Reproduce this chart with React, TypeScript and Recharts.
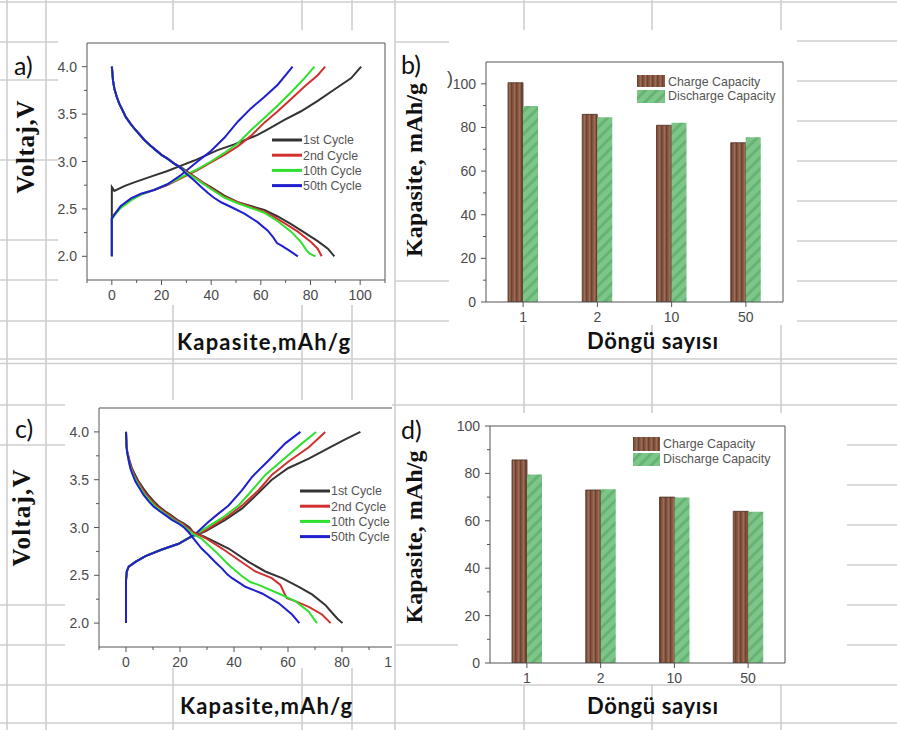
import React from 'react';
import { LineChart, Line, XAxis, YAxis, BarChart, Bar, Legend } from 'recharts';

// ---------- data ----------
const cycleNames = ['1st Cycle', '2nd Cycle', '10th Cycle', '50th Cycle'];
const cycleColors = ['#333333', '#d23030', '#2fe02f', '#1f1fcf'];

// panel a: charge curves [capacity, voltage]
const aCharge1 = [[0, 2.0], [0, 2.73], [1, 2.69], [5, 2.74], [9, 2.78], [15.7, 2.84], [22.4, 2.9], [29.2, 2.97], [33.2, 3.01], [42.6, 3.12], [49.3, 3.18], [58.7, 3.28], [62.8, 3.34], [69.5, 3.44], [76.2, 3.53], [82.9, 3.64], [89.6, 3.76], [96.4, 3.88], [100.4, 4.0]];
const aCharge2 = [[0, 2.0], [0, 2.4], [1, 2.44], [3.6, 2.52], [7.7, 2.6], [11.7, 2.65], [17, 2.7], [22.4, 2.75], [29.2, 2.84], [34.5, 2.91], [39.9, 2.99], [45.3, 3.07], [50.7, 3.16], [56, 3.27], [61.4, 3.41], [66.8, 3.53], [72.2, 3.66], [77.6, 3.79], [82.9, 3.91], [85.9, 4.0]];
const aCharge10 = [[0, 2.0], [0, 2.39], [1, 2.43], [3.6, 2.51], [7.7, 2.59], [11.7, 2.65], [17, 2.7], [22.4, 2.76], [29.2, 2.85], [34.5, 2.92], [39.9, 3.0], [45.3, 3.09], [50.7, 3.19], [56, 3.33], [61.4, 3.46], [66.8, 3.59], [72.2, 3.73], [77.6, 3.88], [81.6, 4.0]];
const aCharge50 = [[0, 2.0], [0, 2.4], [1, 2.44], [3.6, 2.53], [7.7, 2.61], [11.7, 2.66], [17, 2.7], [22.4, 2.76], [28, 2.86], [34.5, 3.0], [39.9, 3.11], [45.3, 3.25], [50.7, 3.42], [56, 3.56], [61.4, 3.68], [66.8, 3.81], [72.8, 4.0]];
// panel a: discharge curves
const aDis1 = [[0, 4.0], [0.5, 3.85], [1, 3.77], [2, 3.68], [3, 3.61], [4.3, 3.54], [5.6, 3.47], [7.5, 3.4], [9, 3.35], [11, 3.29], [13, 3.23], [15.5, 3.17], [17.7, 3.12], [20, 3.07], [22.4, 3.03], [25, 2.98], [27.8, 2.94], [30, 2.9], [33.2, 2.84], [36.5, 2.78], [39.9, 2.73], [45.3, 2.64], [50.7, 2.57], [56, 2.53], [61.4, 2.49], [66.8, 2.42], [72.2, 2.34], [77.6, 2.25], [82.9, 2.16], [87, 2.08], [89.6, 2.0]];
const aDis2 = [[0, 4.0], [0.5, 3.85], [1, 3.77], [2, 3.68], [3, 3.61], [4.3, 3.54], [5.6, 3.47], [7.5, 3.4], [9, 3.35], [11, 3.29], [13, 3.23], [15.5, 3.17], [17.7, 3.12], [20, 3.07], [22.4, 3.03], [25, 2.98], [27.8, 2.93], [30, 2.89], [33.2, 2.84], [36.5, 2.78], [39.9, 2.72], [45.3, 2.63], [50.7, 2.57], [56, 2.52], [61.4, 2.47], [65, 2.42], [69.5, 2.35], [74.9, 2.26], [80.2, 2.15], [82.9, 2.08], [84.5, 2.0]];
const aDis10 = [[0, 4.0], [0.5, 3.85], [1, 3.77], [2, 3.68], [3, 3.61], [4.3, 3.54], [5.6, 3.47], [7.5, 3.4], [9, 3.35], [11, 3.29], [13, 3.23], [15.5, 3.17], [17.7, 3.12], [20, 3.07], [22.4, 3.03], [25, 2.98], [27.8, 2.93], [30, 2.88], [33.2, 2.83], [36.5, 2.77], [39.9, 2.71], [45.3, 2.62], [50.7, 2.56], [56, 2.51], [61.4, 2.46], [66.8, 2.37], [72.2, 2.26], [76.2, 2.15], [78.2, 2.07], [79.5, 2.03], [82, 2.0]];
const aDis50 = [[0, 4.0], [0.5, 3.85], [1, 3.77], [2, 3.68], [3, 3.61], [4.3, 3.54], [5.6, 3.47], [7.5, 3.4], [9, 3.35], [11, 3.29], [13, 3.23], [15.5, 3.17], [17.7, 3.12], [20, 3.07], [22.4, 3.03], [25, 2.98], [27.8, 2.93], [30, 2.87], [33.2, 2.8], [36, 2.73], [38.6, 2.67], [41, 2.62], [44, 2.57], [48, 2.52], [53.4, 2.45], [58.7, 2.36], [62.8, 2.27], [65, 2.2], [66.5, 2.14], [68.5, 2.11], [71.5, 2.06], [74.9, 2.0]];

// panel c: charge curves
const cCharge1 = [[0, 2.0], [0, 2.45], [0.3, 2.54], [1, 2.59], [3.5, 2.64], [7.2, 2.7], [13.3, 2.77], [19.5, 2.83], [23.2, 2.89], [25, 2.91], [29.4, 2.96], [36.8, 3.08], [43, 3.2], [49, 3.36], [54, 3.5], [60, 3.62], [67.7, 3.72], [75, 3.83], [81, 3.92], [86.8, 4.0]];
const cCharge2 = [[0, 2.0], [0, 2.45], [0.3, 2.54], [1, 2.59], [3.5, 2.64], [7.2, 2.7], [13.3, 2.77], [19.5, 2.83], [23.2, 2.89], [25, 2.91], [29.4, 2.97], [36.8, 3.1], [43, 3.23], [49.1, 3.39], [54, 3.55], [60.2, 3.69], [67.7, 3.84], [73.8, 4.0]];
const cCharge10 = [[0, 2.0], [0, 2.45], [0.3, 2.54], [1, 2.59], [3.5, 2.64], [7.2, 2.7], [13.3, 2.77], [19.5, 2.83], [23.2, 2.89], [25, 2.91], [28.1, 2.97], [35.6, 3.1], [41.7, 3.23], [46.7, 3.39], [51.6, 3.55], [57.8, 3.7], [65.2, 3.88], [70.4, 4.0]];
const cCharge50 = [[0, 2.0], [0, 2.45], [0.3, 2.54], [1, 2.59], [3.5, 2.64], [7.2, 2.7], [13.3, 2.77], [19.5, 2.83], [23.2, 2.89], [26, 2.94], [30.6, 3.06], [34, 3.14], [38, 3.23], [43, 3.39], [46.7, 3.53], [52.8, 3.7], [59, 3.88], [64.6, 4.0]];
// panel c: discharge curves
const cDis1 = [[0, 4.0], [0.2, 3.85], [0.5, 3.79], [1.3, 3.7], [2.2, 3.62], [3.4, 3.55], [4.7, 3.48], [6.4, 3.41], [8.2, 3.34], [10.4, 3.27], [12.2, 3.22], [14.5, 3.17], [16.6, 3.13], [19, 3.08], [21.5, 3.04], [23.5, 3.0], [25, 2.95], [29.4, 2.9], [38, 2.78], [45.4, 2.64], [51.6, 2.54], [57.8, 2.47], [64, 2.38], [68.9, 2.3], [73.8, 2.19], [76.9, 2.09], [78.5, 2.04], [80.2, 2.0]];
const cDis2 = [[0, 4.0], [0.2, 3.85], [0.45, 3.79], [1.2, 3.7], [2, 3.62], [3, 3.55], [4.3, 3.48], [5.9, 3.41], [7.6, 3.34], [9.8, 3.27], [11.6, 3.22], [13.9, 3.17], [16, 3.13], [18.4, 3.08], [21, 3.04], [23, 2.99], [25, 2.95], [29.4, 2.89], [35.6, 2.78], [41.7, 2.66], [47.9, 2.54], [54, 2.47], [57.2, 2.4], [58.5, 2.32], [59.6, 2.26], [62.7, 2.23], [67.7, 2.17], [72.6, 2.09], [75.8, 2.0]];
const cDis10 = [[0, 4.0], [0.2, 3.85], [0.4, 3.79], [1, 3.7], [1.7, 3.62], [2.7, 3.55], [3.9, 3.48], [5.4, 3.41], [7, 3.34], [9.2, 3.27], [10.9, 3.22], [13.2, 3.17], [15.2, 3.13], [17.6, 3.08], [20.2, 3.04], [22.4, 2.99], [25, 2.93], [28.1, 2.88], [33.1, 2.75], [38, 2.61], [43, 2.49], [46, 2.43], [49.1, 2.4], [56.5, 2.31], [62.7, 2.23], [67.7, 2.12], [70.7, 2.0]];
const cDis50 = [[0, 4.0], [0.2, 3.85], [0.4, 3.79], [1, 3.7], [1.6, 3.62], [2.5, 3.55], [3.5, 3.48], [5, 3.41], [6.5, 3.34], [8.5, 3.27], [10.2, 3.22], [12.5, 3.17], [14.6, 3.13], [17, 3.08], [19.5, 3.04], [21.5, 3.0], [23.2, 2.95], [25.7, 2.86], [28, 2.78], [30.6, 2.71], [33, 2.64], [35.6, 2.57], [37.5, 2.51], [39.3, 2.47], [42, 2.42], [44.2, 2.38], [50.4, 2.31], [56.5, 2.21], [61.5, 2.09], [64.2, 2.0]];

// bar panels
const cycleLabels = ['1', '2', '10', '50'];
const bCharge = [100.5, 86, 81, 73];
const bDischarge = [89.8, 84.7, 82.2, 75.5];
const dCharge = [85.7, 73, 70, 64];
const dDischarge = [79.5, 73.3, 69.8, 63.8];

// tick labels
const capTicks = [-10, 0, 10, 20, 30, 40, 50, 60, 70, 80, 90, 100, 110];
const voltTicks = [2.0, 2.25, 2.5, 2.75, 3.0, 3.25, 3.5, 3.75, 4.0];
const capaTicksB = [0, 10, 20, 30, 40, 50, 60, 70, 80, 90, 100];
const capaTicksD = [0, 10, 20, 30, 40, 50, 60, 70, 80, 90, 100];

// ---------- helpers ----------
type Pt = { c: number; v: number };
const toPts = (arr: number[][]): Pt[] => arr.map(([c, v]) => ({ c, v }));
const aChargeSets = [aCharge1, aCharge2, aCharge10, aCharge50].map(toPts);
const aDisSets = [aDis1, aDis2, aDis10, aDis50].map(toPts);
const cChargeSets = [cCharge1, cCharge2, cCharge10, cCharge50].map(toPts);
const cDisSets = [cDis1, cDis2, cDis10, cDis50].map(toPts);
const bTable = cycleLabels.map((k, i) => ({ cycle: k, charge: bCharge[i], discharge: bDischarge[i] }));
const dTable = cycleLabels.map((k, i) => ({ cycle: k, charge: dCharge[i], discharge: dDischarge[i] }));

const TICK_FONT = "'Liberation Sans', Arial, sans-serif";
const TICK_COLOR = '#4a4a4a';
const AXIS = '#555';

const leftTick = (isMajor: (v: number) => boolean, fmt: (v: number) => string, gap: number) => (p: any) => {
  const v = p.payload.value;
  const maj = isMajor(v);
  const len = maj ? 5 : 3;
  return (
    <g>
      <line x1={p.x - len} x2={p.x} y1={p.y} y2={p.y} stroke={AXIS} strokeWidth={1} />
      {maj && (
        <text x={p.x - len - gap} y={p.y} dy="0.36em" textAnchor="end" fontSize={14} fill={TICK_COLOR} fontFamily={TICK_FONT}>
          {fmt(v)}
        </text>
      )}
    </g>
  );
};

// edgeLabel: the label of a tick that the original crop cuts at the panel edge (only its first digit shows)
const bottomTick = (isMajor: (v: any) => boolean, gap: number, edgeValue?: number) => (p: any) => {
  const v = p.payload.value;
  const maj = isMajor(v);
  const len = maj ? 5 : 3;
  const isEdge = edgeValue !== undefined && v === edgeValue;
  return (
    <g>
      <line x1={p.x} x2={p.x} y1={p.y} y2={p.y + len} stroke={AXIS} strokeWidth={1} />
      {maj && (
        <text x={isEdge ? p.x - 11.7 : p.x} y={p.y + len + gap} dy="0.72em" textAnchor={isEdge ? 'start' : 'middle'}
          fontSize={14} fill={TICK_COLOR} fontFamily={TICK_FONT}>
          {isEdge ? String(v).charAt(0) : String(v)}
        </text>
      )}
    </g>
  );
};

const capMajor = (v: number) => v >= 0 && v <= 100 && v % 20 === 0;
const voltMajor = (v: number) => Math.abs(v * 2 - Math.round(v * 2)) < 1e-6;
const capaMajor = (v: number) => v % 20 === 0;

const LineLegend = () => (
  <svg width={100} height={62} style={{ display: 'block', overflow: 'visible' }}>
    {cycleNames.map((n, i) => (
      <g key={n}>
        <line x1={0} x2={30} y1={8 + 15.2 * i} y2={8 + 15.2 * i} stroke={cycleColors[i]} strokeWidth={3} />
        <text x={31} y={8 + 15.2 * i} dy="0.36em" fontSize={12.4} fill="#555" fontFamily={TICK_FONT}>
          {n}
        </text>
      </g>
    ))}
  </svg>
);

const PatternDefs = ({ prefix }: { prefix: string }) => (
  <defs>
    <pattern id={prefix + 'Ch'} width={5} height={10} patternUnits="userSpaceOnUse">
      <rect width={5} height={10} fill="#8b5b46" />
      <rect x={0} width={1.4} height={10} fill="#6b4333" />
      <rect x={3} width={1} height={10} fill="#9e6c56" />
    </pattern>
    <pattern id={prefix + 'Dis'} width={8} height={8} patternUnits="userSpaceOnUse" patternTransform="rotate(45)">
      <rect width={8} height={8} fill="#7cc689" />
      <rect width={3} height={8} fill="#66b374" />
    </pattern>
  </defs>
);

const BarLegend = ({ prefix, sw, sh1, sh2, gap2, textX, base1, base2 }: any) => (
  <svg width={130} height={34} style={{ display: 'block', overflow: 'visible' }}>
    <PatternDefs prefix={prefix} />
    <rect x={0} y={1} width={sw} height={sh1} fill={`url(#${prefix}Ch)`} />
    <rect x={0} y={gap2} width={sw} height={sh2} fill={`url(#${prefix}Dis)`} />
    <text x={textX} y={base1} fontSize={12.4} fill="#555" fontFamily={TICK_FONT}>Charge Capacity</text>
    <text x={textX} y={base2} fontSize={12.4} fill="#555" fontFamily={TICK_FONT}>Discharge Capacity</text>
  </svg>
);

// ---------- panels ----------
const VoltChart = ({ chargeSets, disSets, width, height, legendPos, edgeValue }: any) => (
  <LineChart width={width} height={height} margin={{ top: 10, right: 0, bottom: 0, left: 0 }}>
    <XAxis dataKey="c" type="number" domain={[-10, 110]} ticks={capTicks} interval={0} allowDataOverflow
      tick={bottomTick(capMajor, 5, edgeValue)} tickSize={0} tickMargin={0} tickLine={false} axisLine={{ stroke: AXIS }} height={30} />
    <XAxis xAxisId="top" orientation="top" dataKey="c" type="number" domain={[-10, 110]} allowDataOverflow
      tick={false} tickLine={false} axisLine={{ stroke: AXIS }} height={1} />
    <YAxis type="number" domain={[1.75, 4.25]} ticks={voltTicks} interval={0} allowDataOverflow
      tick={leftTick(voltMajor, (v) => v.toFixed(1), 5)} tickSize={0} tickMargin={0} tickLine={false} axisLine={{ stroke: AXIS }} width={40} />
    <YAxis yAxisId="right" orientation="right" type="number" domain={[1.75, 4.25]} allowDataOverflow
      tick={false} tickLine={false} axisLine={{ stroke: AXIS }} width={1} />
    {chargeSets.map((d: Pt[], i: number) => (
      <Line key={'ch' + i} data={d} dataKey="v" name={cycleNames[i]} type="linear" stroke={cycleColors[i]} strokeWidth={2}
        dot={false} isAnimationActive={false} />
    ))}
    {disSets.map((d: Pt[], i: number) => (
      <Line key={'dis' + i} data={d} dataKey="v" name={cycleNames[i] + ' discharge'} type="linear" stroke={cycleColors[i]} strokeWidth={2}
        dot={false} isAnimationActive={false} legendType="none" />
    ))}
    <Legend layout="vertical" align="center" verticalAlign="middle" content={() => <LineLegend />}
      wrapperStyle={{ left: legendPos[0], top: legendPos[1], width: 100, height: 62 }} />
  </LineChart>
);

const CapChart = ({ table, width, height, domainTop, ticks, prefix, legend }: any) => (
  <BarChart width={width} height={height} data={table} margin={{ top: 10, right: 0, bottom: 0, left: 0 }} barGap={0}>
    <PatternDefs prefix={prefix} />
    <XAxis dataKey="cycle" tick={bottomTick(() => true, 5)} tickSize={0} tickMargin={0} tickLine={false} axisLine={{ stroke: AXIS }} height={25} interval={0} />
    <XAxis xAxisId="top" orientation="top" dataKey="cycle" tick={false} tickLine={false} axisLine={{ stroke: AXIS }} height={1} />
    <YAxis type="number" domain={[0, domainTop]} ticks={ticks} interval={0} allowDataOverflow
      tick={leftTick(capaMajor, (v) => String(v), 5)} tickSize={0} tickMargin={0} tickLine={false} axisLine={{ stroke: AXIS }} width={40} />
    <YAxis yAxisId="right" orientation="right" type="number" domain={[0, domainTop]} tick={false} tickLine={false} axisLine={{ stroke: AXIS }} width={1} />
    <Bar dataKey="charge" name="Charge Capacity" fill={`url(#${prefix}Ch)`} stroke="#4a2f22" strokeWidth={0.8} barSize={15} isAnimationActive={false} />
    <Bar dataKey="discharge" name="Discharge Capacity" fill={`url(#${prefix}Dis)`} barSize={15} isAnimationActive={false} />
    <Legend layout="vertical" align="center" verticalAlign="middle" content={() => <BarLegend {...legend} />}
      wrapperStyle={{ left: legend.left, top: legend.top, width: 130, height: 34 }} />
  </BarChart>
);

// ---------- page background (table grid) ----------
const GRID = '#cfcfcf';
const gridSegs: number[][] = [
  [0, 2, 897, 2],
  [7, 0, 7, 730], [46, 0, 46, 730], [173, 0, 173, 730], [302, 0, 302, 730], [352, 0, 352, 730],
  [395, 0, 395, 730], [524, 0, 524, 730], [652, 0, 652, 730], [781, 0, 781, 730],
  ...[42, 80, 160, 240, 280].map((y) => [0, y, 58, y]),
  ...[41, 81, 121, 161, 201, 241, 281].map((y) => [797, y, 897, y]),
  [395, 42, 449, 42], [395, 281, 449, 281],
  [0, 321, 897, 321], [0, 359, 897, 359], [0, 363.5, 897, 363.5], [0, 405, 897, 405],
  [0, 685, 897, 685], [0, 723, 897, 723],
  ...[445, 605, 645].map((y) => [0, y, 65, y]),
  [395, 645, 458, 645],
  ...[445, 485, 525, 565, 605, 645].map((y) => [847, y, 897, y]),
];
const whiteRects = [[58, 30, 336, 275], [449, 30, 348, 295], [65, 400, 327, 268], [458, 413, 389, 271]];

const abs = (l: number, t: number, extra: any = {}) => ({ position: 'absolute' as const, left: l, top: t, ...extra });

export default function App() {
  return (
    <div style={{ position: 'absolute', left: 0, top: 0, width: 897, height: 730, background: '#fff', overflow: 'hidden' }}>
      <svg width={897} height={730} style={abs(0, 0)}>
        {gridSegs.map((s, i) => (
          <line key={i} x1={s[0]} y1={s[1]} x2={s[2]} y2={s[3]} stroke={GRID} strokeWidth={1.6} />
        ))}
        {whiteRects.map((r, i) => (
          <rect key={i} x={r[0]} y={r[1]} width={r[2]} height={r[3]} fill="#fff" />
        ))}
      </svg>

      <div style={abs(47, 32)}>
        <VoltChart chargeSets={aChargeSets} disSets={aDisSets} width={339} height={278} legendPos={[225, 100]} />
      </div>
      <div style={abs(446, 51)}>
        <CapChart table={bTable} width={338} height={276} domainTop={110} ticks={capaTicksB} prefix="pb"
          legend={{ prefix: 'pbl', left: 191, top: 23, sw: 28, sh1: 12, sh2: 13, gap2: 16, textX: 31, base1: 12, base2: 26 }} />
      </div>
      <div style={abs(59, 397, { width: 333, height: 282, overflow: 'hidden' })}>
        <VoltChart chargeSets={cChargeSets} disSets={cDisSets} width={365} height={280} legendPos={[241, 86]} edgeValue={100} />
      </div>
      <div style={abs(450, 415)}>
        <CapChart table={dTable} width={336} height={273} domainTop={100} ticks={capaTicksD} prefix="pd"
          legend={{ prefix: 'pdl', left: 183, top: 21, sw: 27, sh1: 14, sh2: 13, gap2: 17, textX: 30, base1: 12, base2: 27 }} />
      </div>

      <svg width={897} height={730} style={abs(0, 0, { pointerEvents: 'none' })}>
        <g fontFamily="Lato, 'Open Sans', sans-serif" fontSize={25} fill="#111">
          <text x={14} y={75}>a)</text>
          <text x={401} y={74}>b)</text>
          <text x={15} y={438}>c)</text>
          <text x={401} y={439}>d)</text>
        </g>
        <text x={447} y={84} fontSize={18} fill="#444" fontFamily={TICK_FONT}>)</text>
        <g fontFamily="'Liberation Serif', 'Times New Roman', serif" fontWeight="bold" fill="#111" textAnchor="middle">
          <text transform="translate(34,147) rotate(-90)" fontSize={25} textLength={93}>Voltaj,V</text>
          <text transform="translate(30,518) rotate(-90)" fontSize={25} textLength={97}>Voltaj,V</text>
          <text transform="translate(422,170) rotate(-90)" fontSize={24} textLength={174}>Kapasite, mAh/g</text>
          <text transform="translate(422,537) rotate(-90)" fontSize={24} textLength={173}>Kapasite, mAh/g</text>
        </g>
        <g fontFamily="Lato, 'Open Sans', sans-serif" fontWeight="bold" fill="#111" textAnchor="middle" fontSize={22}>
          <text x={263.5} y={350} textLength={173}>Kapasite,mAh/g</text>
          <text x={652.5} y={349} textLength={131}>Döngü sayısı</text>
          <text x={266} y={714} textLength={172}>Kapasite,mAh/g</text>
          <text x={652.5} y={714} textLength={131}>Döngü sayısı</text>
        </g>
      </svg>
    </div>
  );
}
